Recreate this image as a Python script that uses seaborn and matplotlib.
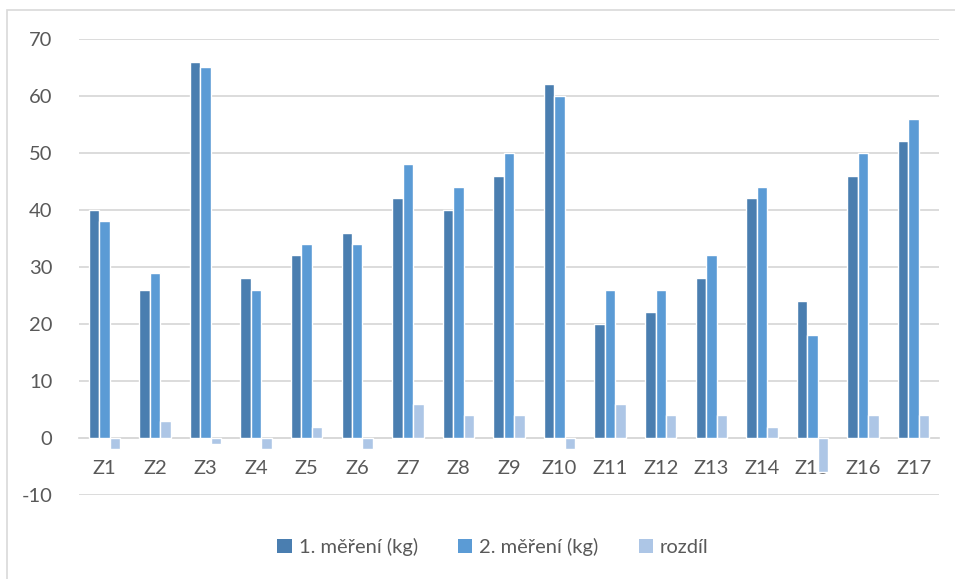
import matplotlib
matplotlib.use("Agg")
import matplotlib.pyplot as plt
import matplotlib.patches as mpatches
import seaborn as sns
import pandas as pd

categories = [f"Z{i}" for i in range(1, 18)]
mereni_1 = [40, 26, 66, 28, 32, 36, 42, 40, 46, 62, 20, 22, 28, 42, 24, 46, 52]
mereni_2 = [38, 29, 65, 26, 34, 34, 48, 44, 50, 60, 26, 26, 32, 44, 18, 50, 56]
rozdil = [-2, 3, -1, -2, 2, -2, 6, 4, 4, -2, 6, 4, 4, 2, -6, 4, 4]
series_names = ["1. měření (kg)", "2. měření (kg)", "rozdíl"]
y_ticks = list(range(-10, 71, 10))

colors = ["#4A7EB0", "#5B9BD5", "#ADC6E6"]
text_color = "#595959"
grid_color = "#D9D9D9"

df = pd.DataFrame({
    "kategorie": categories * 3,
    "hodnota": mereni_1 + mereni_2 + rozdil,
    "serie": [series_names[0]] * 17 + [series_names[1]] * 17 + [series_names[2]] * 17,
})

sns.set_theme(style="white")
plt.rcParams["font.family"] = ["Lato", "DejaVu Sans"]
plt.rcParams["axes.unicode_minus"] = False

fig = plt.figure(figsize=(9.55, 5.79), dpi=100)
ax = fig.add_axes([79 / 955, 1 - 495 / 579, (939 - 79) / 955, (495 - 38.7) / 579])

sns.barplot(data=df, x="kategorie", y="hodnota", hue="serie", order=categories,
            hue_order=series_names, palette=colors, width=0.62, dodge=True,
            edgecolor="white", linewidth=1.0, saturation=1, ax=ax, legend=False,
            errorbar=None)

ax.set_xlim(-0.5, len(categories) - 0.5)
ax.set_ylim(-10, 70)
ax.set_yticks(y_ticks)
ax.yaxis.grid(True, color=grid_color, linewidth=1.3)
ax.set_axisbelow(True)
for s in ["top", "right", "left"]:
    ax.spines[s].set_visible(False)
ax.spines["bottom"].set_position(("data", 0))
ax.spines["bottom"].set_color(grid_color)
ax.spines["bottom"].set_linewidth(1.3)
ax.spines["bottom"].set_zorder(0.5)
ax.tick_params(axis="y", length=0, pad=19, labelsize=14.5, labelcolor=text_color)
ax.tick_params(axis="x", length=0, pad=16, labelsize=14.5, labelcolor=text_color)
ax.set_xlabel("")
ax.set_ylabel("")

handles = [mpatches.Patch(facecolor=c, edgecolor="none") for c in colors]
fig.legend(handles, series_names, loc="center", bbox_to_anchor=(493 / 955, 1 - 547 / 579),
           ncol=3, frameon=False, fontsize=14.5, labelcolor=text_color,
           handlelength=0.7, handleheight=0.7, handletextpad=0.35, columnspacing=2.0)

fig.patches.append(mpatches.Rectangle((7 / 955, -0.05), 1.1, 1.05 - 10 / 579,
                                      transform=fig.transFigure, fill=False,
                                      edgecolor=grid_color, linewidth=1.2, zorder=0))

fig.savefig("out.png", dpi=100)
